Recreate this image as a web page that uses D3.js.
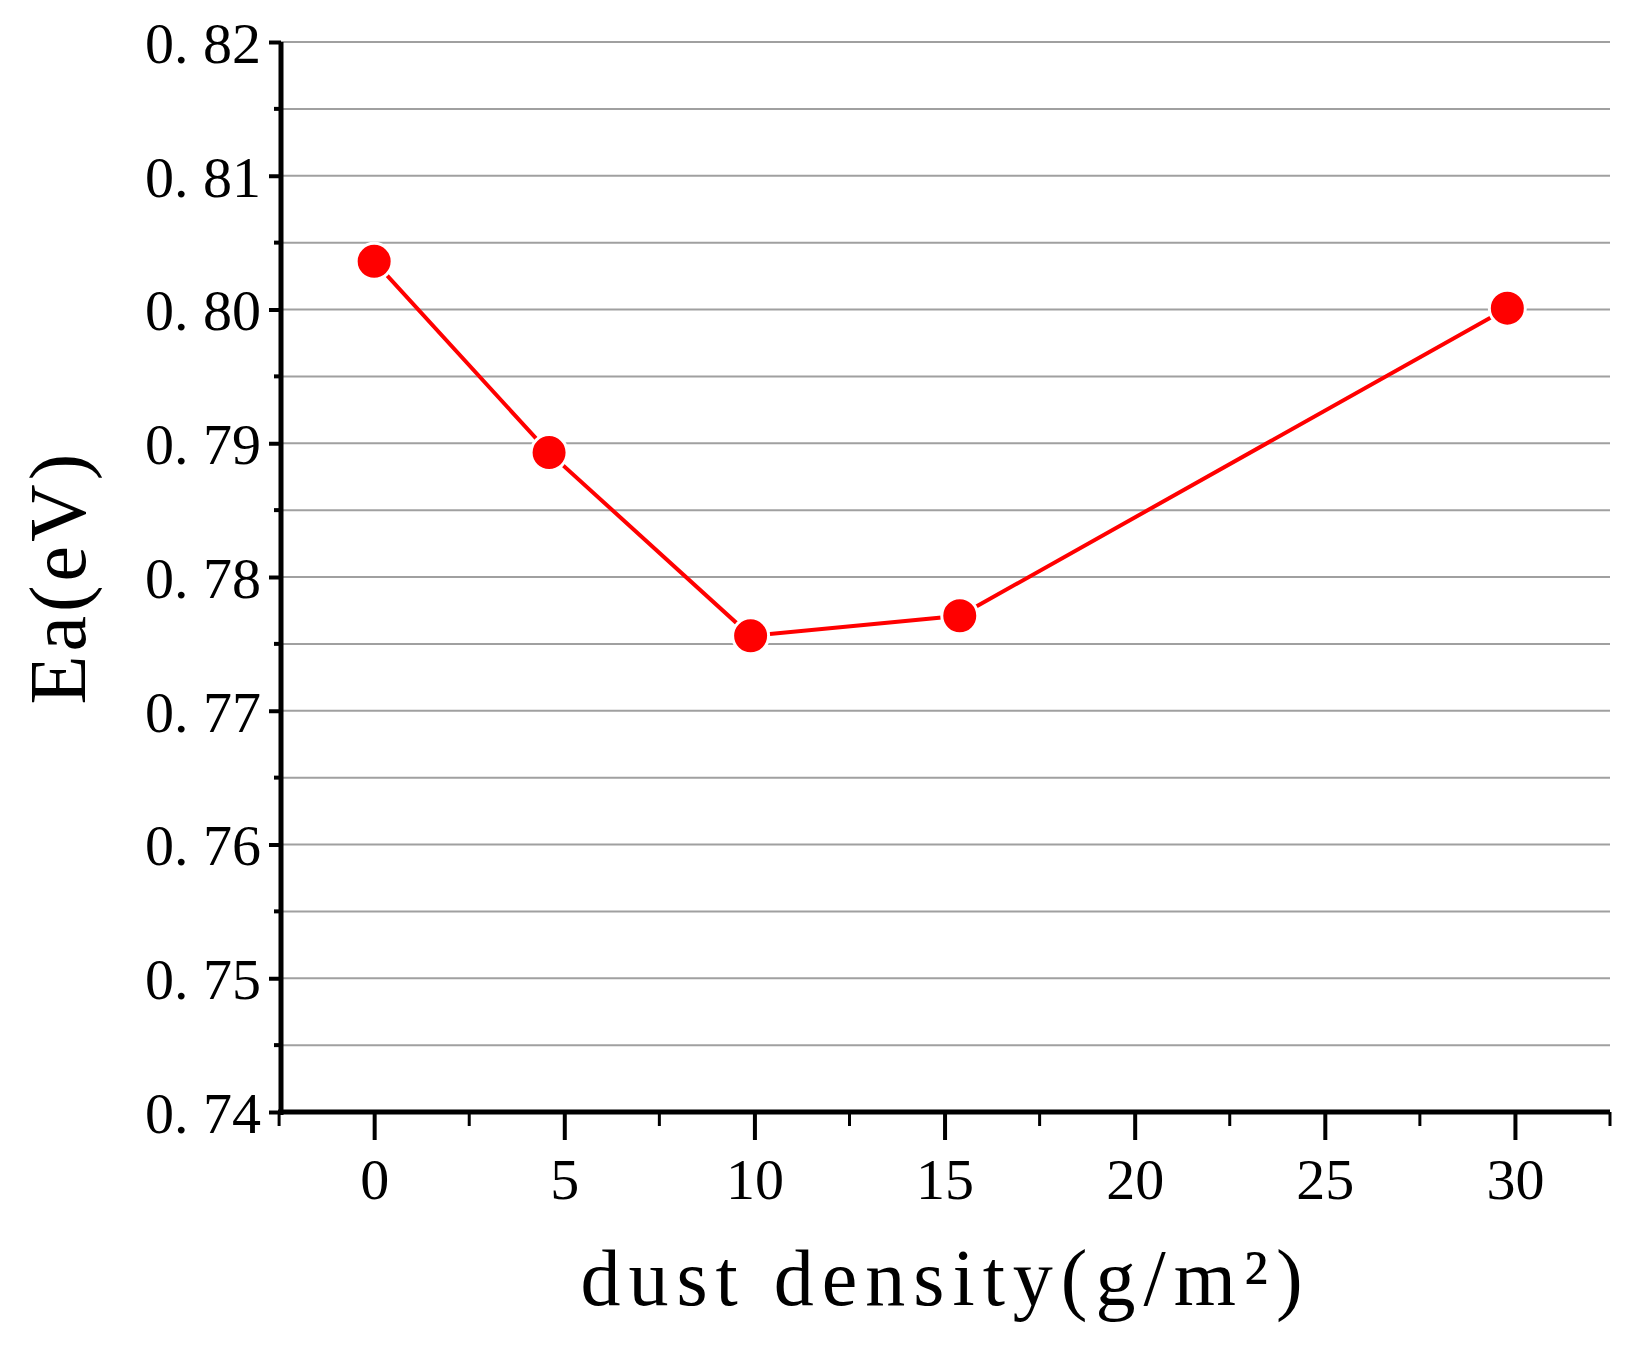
<!DOCTYPE html>
<html><head><meta charset="utf-8">
<script src="https://cdn.jsdelivr.net/npm/d3@7"></script>
<style>body{margin:0;background:#fff}text{font-family:"Liberation Serif","DejaVu Serif",serif}</style>
</head><body><div id="vis"></div>
<script>
// data
var density = [0, 4.6, 9.9, 15.4, 29.8];
var ea = [0.8036, 0.7893, 0.7756, 0.7771, 0.8001];
var xTicks = [0, 5, 10, 15, 20, 25, 30];
var yTicks = [0.74, 0.75, 0.76, 0.77, 0.78, 0.79, 0.80, 0.81, 0.82];

var W = 1645, H = 1345;
var L = 281, R = 1610, T = 42, B = 1112;

var svg = d3.select("#vis").append("svg").attr("width", W).attr("height", H);

var x = d3.scaleLinear().domain([-2.45, 32.5]).range([L, R]);
var y = d3.scaleLinear().domain([0.74, 0.82]).range([B, T]);

// grid lines every 0.005
var grid = d3.range(0.745, 0.8201, 0.005);
svg.selectAll(".grid").data(grid).enter().append("line")
    .attr("x1", L).attr("x2", R)
    .attr("y1", function (d) { return y(d); }).attr("y2", function (d) { return y(d); })
    .attr("stroke", "#a0a0a0").attr("stroke-width", 2);

// y axis
var ya = svg.append("g").attr("transform", "translate(" + L + ",0)")
    .call(d3.axisLeft(y).tickValues(yTicks).tickSize(12).tickPadding(8).tickFormat(function (d) { return d3.format(".2f")(d).replace(".", ". "); }));
ya.append("g").selectAll("line").data(d3.range(0.745, 0.82, 0.01)).enter().append("line")
    .attr("x1", -7).attr("x2", 0).attr("y1", function (d) { return y(d); }).attr("y2", function (d) { return y(d); })
    .attr("stroke", "#000").attr("stroke-width", 4);

// x axis
var xa = svg.append("g").attr("transform", "translate(0," + B + ")")
    .call(d3.axisBottom(x).tickValues(xTicks).tickSize(28).tickPadding(18));
xa.append("g").selectAll("line").data([-2.5, 2.5, 7.5, 12.5, 17.5, 22.5, 27.5, 32.5]).enter().append("line")
    .attr("x1", function (d) { return x(d); }).attr("x2", function (d) { return x(d); })
    .attr("y1", 0).attr("y2", 14).attr("stroke", "#000").attr("stroke-width", 3);

[ya, xa].forEach(function (a) {
    a.select(".domain").attr("stroke-width", 5).attr("d", a === ya ? "M0," + (B + 3) + "V" + T : "M" + (L - 3) + ",0H" + R);
    a.selectAll(".tick line").attr("stroke-width", 4);
    a.selectAll("text").attr("font-size", 58).attr("fill", "#000");
});
ya.selectAll(".tick text").attr("dy", "0.35em");

// line and points
svg.append("path").datum(density.map(function (d, i) { return [d, ea[i]]; }))
    .attr("fill", "none").attr("stroke", "#ff0000").attr("stroke-width", 4)
    .attr("d", d3.line().x(function (d) { return x(d[0]); }).y(function (d) { return y(d[1]); }));
svg.selectAll(".pt").data(density).enter().append("circle")
    .attr("cx", function (d) { return x(d); }).attr("cy", function (d, i) { return y(ea[i]); })
    .attr("r", 18).attr("fill", "#ff0000").attr("stroke", "#fff").attr("stroke-width", 3);

// axis labels
svg.append("text").attr("x", (L + R) / 2).attr("y", 1305).attr("text-anchor", "middle")
    .attr("font-size", 80).attr("letter-spacing", 8).text("dust density(g/m²)");
svg.append("text").attr("transform", "translate(85," + (T + B) / 2 + ") rotate(-90)")
    .attr("text-anchor", "middle").attr("font-size", 80).attr("letter-spacing", 4).text("Ea(eV)");
</script></body></html>
